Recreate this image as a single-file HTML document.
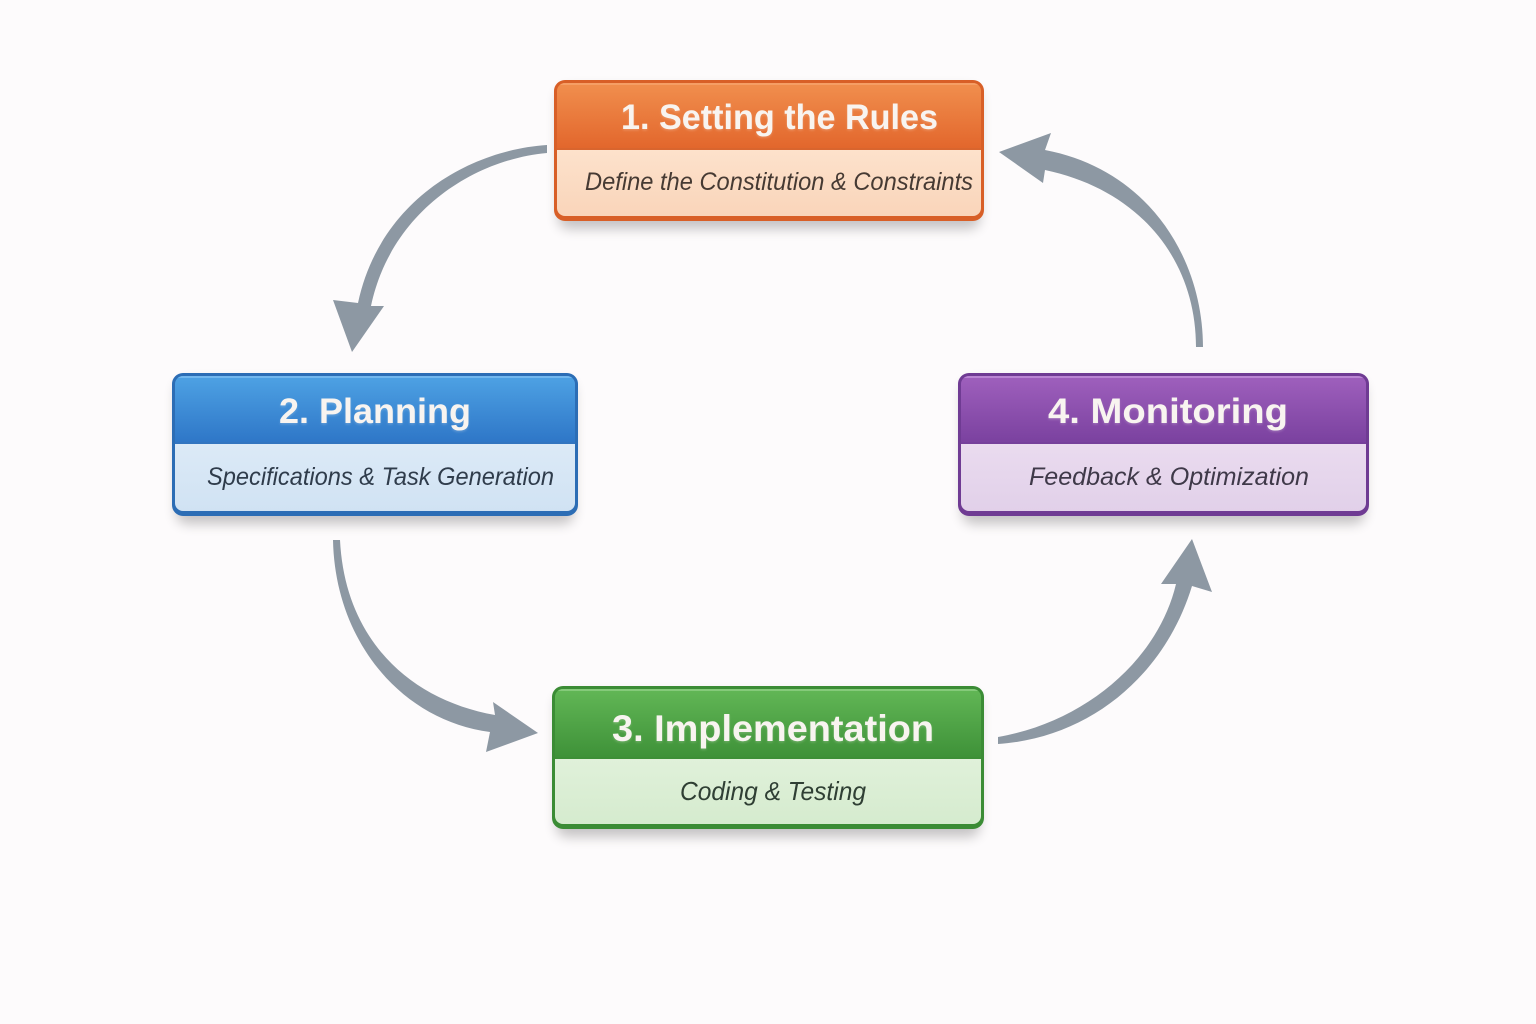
<!DOCTYPE html>
<html><head><meta charset="utf-8"><style>
html,body{margin:0;padding:0;background:#fdfbfc;}
svg{display:block;}
.t{font-family:"Liberation Sans",sans-serif;font-weight:bold;fill:#f8f4f0;}
.s{font-family:"Liberation Sans",sans-serif;font-style:italic;}
</style></head><body>
<svg width="1536" height="1024" viewBox="0 0 1536 1024" xmlns="http://www.w3.org/2000/svg">
<defs>
<filter id="sh" x="-10%" y="-20%" width="120%" height="150%"><feGaussianBlur stdDeviation="6"/></filter>
<filter id="ts" x="-5%" y="-20%" width="110%" height="150%"><feGaussianBlur stdDeviation="1"/></filter>
<linearGradient id="oh" x1="0" y1="0" x2="0" y2="1"><stop offset="0" stop-color="#f18f4e"/><stop offset="1" stop-color="#e2662c"/></linearGradient>
<linearGradient id="ob" x1="0" y1="0" x2="0" y2="1"><stop offset="0" stop-color="#fde2cc"/><stop offset="1" stop-color="#f9d4b9"/></linearGradient>
<linearGradient id="bh" x1="0" y1="0" x2="0" y2="1"><stop offset="0" stop-color="#4ea2e4"/><stop offset="1" stop-color="#2e76c7"/></linearGradient>
<linearGradient id="bb" x1="0" y1="0" x2="0" y2="1"><stop offset="0" stop-color="#dceaf7"/><stop offset="1" stop-color="#d0e2f3"/></linearGradient>
<linearGradient id="gh" x1="0" y1="0" x2="0" y2="1"><stop offset="0" stop-color="#62b756"/><stop offset="1" stop-color="#3e9138"/></linearGradient>
<linearGradient id="gb" x1="0" y1="0" x2="0" y2="1"><stop offset="0" stop-color="#e0f1da"/><stop offset="1" stop-color="#d5ebce"/></linearGradient>
<linearGradient id="ph" x1="0" y1="0" x2="0" y2="1"><stop offset="0" stop-color="#9f60bd"/><stop offset="1" stop-color="#7a419f"/></linearGradient>
<linearGradient id="pb" x1="0" y1="0" x2="0" y2="1"><stop offset="0" stop-color="#eadbef"/><stop offset="1" stop-color="#e1d0e9"/></linearGradient>
<clipPath id="c1"><rect x="557" y="83" width="424" height="133" rx="8"/></clipPath>
<clipPath id="c2"><rect x="175" y="376" width="400" height="135" rx="8"/></clipPath>
<clipPath id="c3"><rect x="555" y="689" width="426" height="135" rx="8"/></clipPath>
<clipPath id="c4"><rect x="961" y="376" width="405" height="135" rx="8"/></clipPath>
</defs>

<!-- arrows -->
<g fill="#8d98a3">
<path d="M547,145 C470,150 380,200 358,303 L333,300 L352,352 L384,306 L371,306 C390,215 470,160 547,153 Z"/>
<path d="M1203,347 C1203,260 1150,170 1045,150 L1051,133 L999,152 L1043,183 L1045,170 C1140,190 1196,260 1196,347 Z"/>
<path d="M333,540 C335,640 400,720 490,732 L486,752 L538,733 L493,702 L495,715 C410,700 345,640 340,540 Z"/>
<path d="M998,744 C1090,738 1165,675 1192,586 L1212,592 L1192,539 L1161,584 L1176,584 C1158,660 1085,722 998,737 Z"/>
</g>

<!-- Box 1 -->
<rect x="558" y="88" width="422" height="141" rx="11" fill="#000" opacity="0.22" filter="url(#sh)"/>
<rect x="554" y="80" width="430" height="141" rx="11" fill="#d85f27"/>
<g clip-path="url(#c1)">
<rect x="557" y="83" width="424" height="66" fill="url(#oh)"/>
<rect x="557" y="149" width="424" height="70" fill="url(#ob)"/>
<rect x="557" y="148" width="424" height="2" fill="#d9652e"/>
<rect x="557" y="83" width="424" height="2" fill="#f6a36b" opacity="0.8"/>
</g>
<text class="t" x="621" y="129" font-size="35" textLength="317" lengthAdjust="spacingAndGlyphs" fill="#000" opacity="0.2" filter="url(#ts)" transform="translate(0,1.5)">1. Setting the Rules</text>
<text class="t" x="621" y="129" font-size="35" textLength="317" lengthAdjust="spacingAndGlyphs">1. Setting the Rules</text>
<text class="s" x="585" y="190" font-size="25" textLength="388" lengthAdjust="spacingAndGlyphs" fill="#463a33">Define the Constitution &amp; Constraints</text>

<!-- Box 2 -->
<rect x="176" y="381" width="398" height="143" rx="11" fill="#000" opacity="0.22" filter="url(#sh)"/>
<rect x="172" y="373" width="406" height="143" rx="11" fill="#2c6db5"/>
<g clip-path="url(#c2)">
<rect x="175" y="376" width="400" height="67" fill="url(#bh)"/>
<rect x="175" y="443" width="400" height="70" fill="url(#bb)"/>
<rect x="175" y="442" width="400" height="2" fill="#3275c0"/>
<rect x="175" y="376" width="400" height="2" fill="#7cbdf0" opacity="0.8"/>
</g>
<text class="t" x="279" y="423" font-size="35" textLength="192" lengthAdjust="spacingAndGlyphs" fill="#000" opacity="0.2" filter="url(#ts)" transform="translate(0,1.5)">2. Planning</text>
<text class="t" x="279" y="423" font-size="35" textLength="192" lengthAdjust="spacingAndGlyphs">2. Planning</text>
<text class="s" x="207" y="485" font-size="25" textLength="347" lengthAdjust="spacingAndGlyphs" fill="#2f3c4b">Specifications &amp; Task Generation</text>

<!-- Box 3 -->
<rect x="556" y="694" width="424" height="143" rx="11" fill="#000" opacity="0.22" filter="url(#sh)"/>
<rect x="552" y="686" width="432" height="143" rx="11" fill="#3b8c35"/>
<g clip-path="url(#c3)">
<rect x="555" y="689" width="426" height="69" fill="url(#gh)"/>
<rect x="555" y="758" width="426" height="68" fill="url(#gb)"/>
<rect x="555" y="757" width="426" height="2" fill="#3d8f37"/>
<rect x="555" y="689" width="426" height="2" fill="#8fd083" opacity="0.8"/>
</g>
<text class="t" x="612" y="741" font-size="37" textLength="322" lengthAdjust="spacingAndGlyphs" fill="#000" opacity="0.2" filter="url(#ts)" transform="translate(0,1.5)">3. Implementation</text>
<text class="t" x="612" y="741" font-size="37" textLength="322" lengthAdjust="spacingAndGlyphs">3. Implementation</text>
<text class="s" x="680" y="800" font-size="26" textLength="186" lengthAdjust="spacingAndGlyphs" fill="#2f3f34">Coding &amp; Testing</text>

<!-- Box 4 -->
<rect x="962" y="381" width="403" height="143" rx="11" fill="#000" opacity="0.22" filter="url(#sh)"/>
<rect x="958" y="373" width="411" height="143" rx="11" fill="#6f3b93"/>
<g clip-path="url(#c4)">
<rect x="961" y="376" width="405" height="67" fill="url(#ph)"/>
<rect x="961" y="443" width="405" height="70" fill="url(#pb)"/>
<rect x="961" y="442" width="405" height="2" fill="#76409b"/>
<rect x="961" y="376" width="405" height="2" fill="#c08fd8" opacity="0.8"/>
</g>
<text class="t" x="1048" y="423" font-size="35" textLength="240" lengthAdjust="spacingAndGlyphs" fill="#000" opacity="0.2" filter="url(#ts)" transform="translate(0,1.5)">4. Monitoring</text>
<text class="t" x="1048" y="423" font-size="35" textLength="240" lengthAdjust="spacingAndGlyphs">4. Monitoring</text>
<text class="s" x="1029" y="485" font-size="25" textLength="280" lengthAdjust="spacingAndGlyphs" fill="#3f3949">Feedback &amp; Optimization</text>
</svg>
</body></html>
